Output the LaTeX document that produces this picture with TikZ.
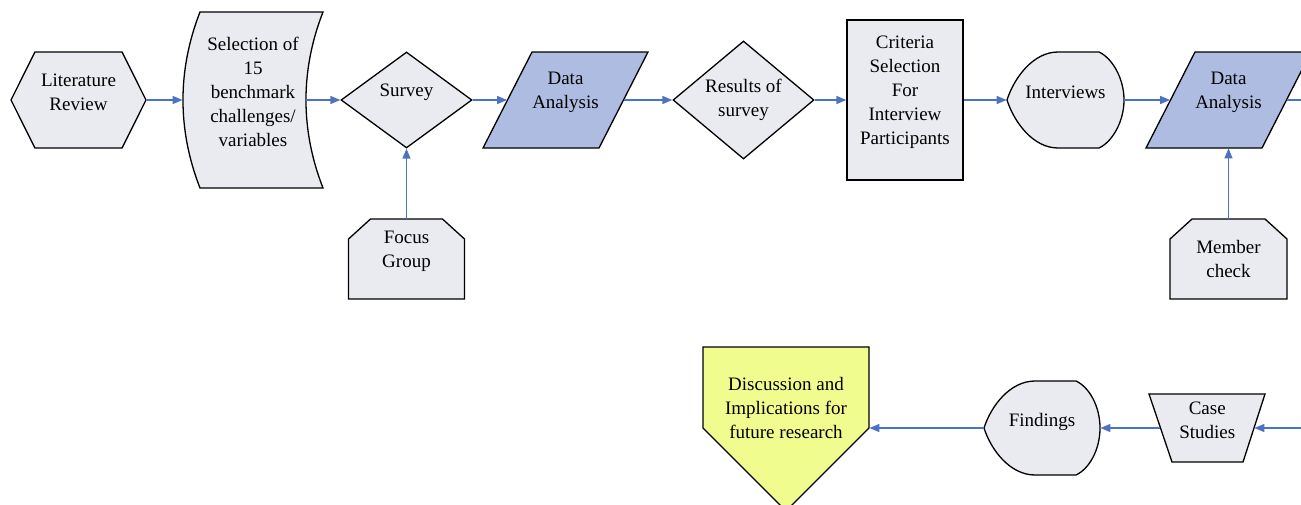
\documentclass[tikz,border=0pt]{standalone}
\usepackage{fontspec}
\setmainfont{Liberation Serif}
\usetikzlibrary{shapes.geometric,shapes.symbols,arrows.meta}
\definecolor{boxgray}{RGB}{234,235,241}
\definecolor{boxblue}{RGB}{174,188,226}
\definecolor{boxyellow}{RGB}{240,253,142}
\definecolor{linkblue}{RGB}{76,114,196}
\begin{document}
\begin{tikzpicture}[x=0.5pt,y=-0.5pt]
	\tikzstyle{every node}=[font=\fontsize{9.5}{12}\selectfont,align=center,inner sep=0pt]
	\tikzstyle{shapebox}=[draw=black,line width=0.65pt,fill=boxgray]
	\tikzstyle{txtup}=[yshift=4pt]
	\tikzstyle{link}=[draw=linkblue,line width=0.7pt,-{Triangle[length=5pt,width=4pt]}]
	\useasboundingbox (0,0) rectangle (1301,504);
	\clip (0,0) rectangle (1301,504);
	\node[shapebox,signal,signal to=west and east,signal pointer angle=127,minimum width=67.5pt,minimum height=48pt,label={[txtup]center:Literature\\Review}] (lit) at (78.5,100) {};
	\draw[shapebox] (200,12) .. controls (177.3,70) and (177.3,130) .. (200,188) -- (323,188) .. controls (300.3,130) and (300.3,70) .. (323,12) -- cycle;
	\node[minimum width=61.5pt,minimum height=88pt,label={[txtup,xshift=4.25pt]center:Selection of\\15\\benchmark\\challenges/\\variables}] (sel) at (244.5,100) {};
	\node[shapebox,diamond,minimum width=65.5pt,minimum height=48pt,label={[txtup]center:Survey}] (surv) at (406.5,100) {};
	\draw[shapebox] (348.5,299) -- (348.5,239) -- (370.5,219) -- (442.5,219) -- (464.5,239) -- (464.5,299) -- cycle;
	\node[minimum width=58pt,minimum height=40pt,label={[txtup]center:Focus\\Group}] (focus) at (406.5,259) {};
	\draw[shapebox,fill=boxblue] (483,148) -- (532,52) -- (648,52) -- (599,148) -- cycle;
	\node[minimum width=58pt,minimum height=48pt,label={[txtup]center:Data\\Analysis}] (da1) at (565.5,100) {};
	\node[shapebox,diamond,minimum width=70.5pt,minimum height=57pt] (res) at (743.5,100) {Results of\\survey};
	\node[shapebox,rectangle,minimum width=58pt,minimum height=80pt,label={[txtup]center:Criteria\\Selection\\For\\Interview\\Participants}] (crit) at (905,100) {};
	\draw[shapebox] (1058,52) -- (1099,52) .. controls (1112,58) and (1124,78) .. (1124,100) .. controls (1124,122) and (1112,142) .. (1099,148) -- (1058,148) .. controls (1033,148) and (1014,122) .. (1007,100) .. controls (1014,78) and (1033,52) .. (1058,52) -- cycle;
	\node[minimum width=58.5pt,minimum height=48pt,label={[txtup]center:Interviews}] (intv) at (1065.5,100) {};
	\draw[shapebox,fill=boxblue] (1146,148) -- (1195,52) -- (1311,52) -- (1262,148) -- cycle;
	\node[minimum width=58pt,minimum height=48pt,label={[txtup]center:Data\\Analysis}] (da2) at (1228.5,100) {};
	\draw[shapebox] (1170,299) -- (1170,239) -- (1192,219) -- (1265,219) -- (1287,239) -- (1287,299) -- cycle;
	\node[minimum width=58.5pt,minimum height=40pt] (memb) at (1228.5,259) {Member\\check};
	\coordinate (exitR) at (1301,100);
	\coordinate (entR) at (1301,428);
	\draw[shapebox] (1149,394) -- (1265,394) -- (1243,462) -- (1172,462) -- cycle;
	\node[minimum width=46.75pt,minimum height=34pt,label={[txtup]center:Case\\Studies}] (case) at (1207.25,428) {};
	\draw[shapebox] (1035,381) -- (1076,381) .. controls (1089,387) and (1100,406) .. (1100,428) .. controls (1100,450) and (1089,469) .. (1076,475) -- (1035,475) .. controls (1010,475) and (991,450) .. (984,428) .. controls (991,406) and (1010,381) .. (1035,381) -- cycle;
	\node[minimum width=58pt,minimum height=47pt,label={[yshift=3pt]center:Findings}] (find) at (1042,428) {};
	\draw[shapebox,fill=boxyellow] (703,347) -- (869,347) -- (869,428) -- (786,511) -- (703,428) -- cycle;
	\node[minimum width=83pt] (disc) at (786,408) {Discussion and\\Implications for\\future research};
	\draw[link] (lit) -- (sel);
	\draw[link] (sel) -- (surv);
	\draw[link] (focus) -- (surv);
	\draw[link] (surv) -- (da1);
	\draw[link] (da1) -- (res);
	\draw[link] (res) -- (crit);
	\draw[link] (crit) -- (intv);
	\draw[link] (intv) -- (da2);
	\draw[link] (memb) -- (da2);
	\draw[link,-] (da2) -- (exitR);
	\draw[link] (entR) -- (case);
	\draw[link] (case) -- (find);
	\draw[link] (find) -- (find -| disc.east);
\end{tikzpicture}
\end{document}
